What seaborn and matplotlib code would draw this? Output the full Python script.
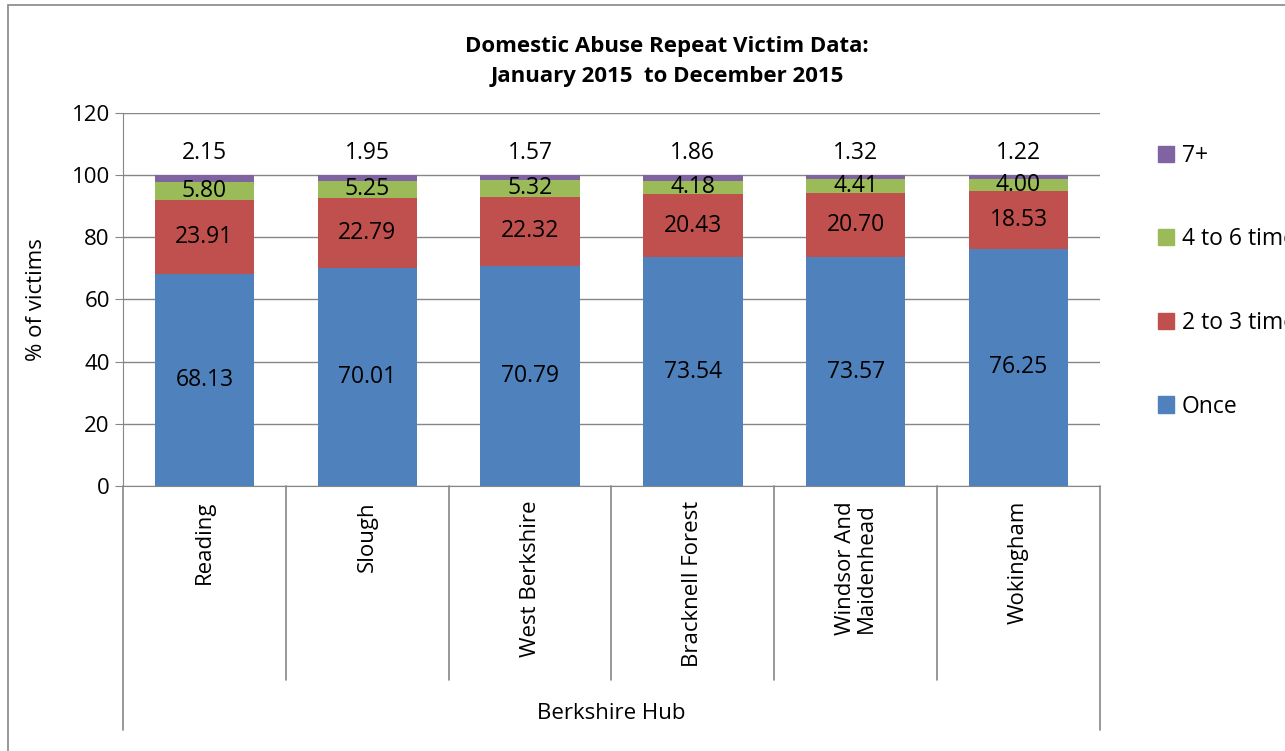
import pandas as pd
import seaborn as sns
import matplotlib.pyplot as plt
from matplotlib.patches import Patch, Rectangle

hubs = ["Reading", "Slough", "West Berkshire", "Bracknell Forest", "Windsor And\nMaidenhead", "Wokingham"]
once = [68.13, 70.01, 70.79, 73.54, 73.57, 76.25]
two_three = [23.91, 22.79, 22.32, 20.43, 20.70, 18.53]
four_six = [5.80, 5.25, 5.32, 4.18, 4.41, 4.00]
seven_plus = [2.15, 1.95, 1.57, 1.86, 1.32, 1.22]

series = ["Once", "2 to 3 times", "4 to 6 times", "7+"]
colors = ["#4F81BD", "#C0504D", "#9BBB59", "#8064A2"]

df = pd.DataFrame({"hub": hubs, "Once": once, "2 to 3 times": two_three,
                   "4 to 6 times": four_six, "7+": seven_plus})
cum = df[series].cumsum(axis=1)
cum["hub"] = df["hub"]

sns.set_style("white")
plt.rcParams["font.family"] = ["Open Sans", "DejaVu Sans"]
plt.rcParams["text.color"] = "black"
plt.rcParams["axes.labelcolor"] = "black"

fs = 16
fig = plt.figure(figsize=(12.85, 7.51), dpi=100)
ax = fig.add_axes([0.0957, 0.3529, 0.7603, 0.4966])

# stacked bars: draw cumulative totals from the top down
for s, c in reversed(list(zip(series, colors))):
    sns.barplot(x="hub", y=s, data=cum, color=c, width=0.61, ax=ax,
                saturation=1, linewidth=0, zorder=3)

# value labels
for i in range(len(hubs)):
    bottom = 0
    for s in series[:-1]:
        v = df[s][i]
        ax.text(i, bottom + v / 2, f"{v:.2f}", ha="center", va="center",
                fontsize=fs + 0.5, zorder=5)
        bottom += v
    ax.text(i, 107, f"{df['7+'][i]:.2f}", ha="center", va="center", fontsize=fs + 0.5)

ax.set_ylim(0, 120)
ax.set_xlim(-0.5, len(hubs) - 0.5)
ax.set_yticks(range(0, 121, 20))
ax.tick_params(axis="y", labelsize=fs, length=6, color="#868686", labelcolor="black",
               direction="out", left=True)
ax.yaxis.grid(True, color="#868686", linewidth=1)
ax.set_axisbelow(True)
for sp in ["top", "right"]:
    ax.spines[sp].set_visible(False)
ax.spines["left"].set_color("#868686")
ax.spines["bottom"].set_color("#868686")
ax.set_ylabel("% of victims", fontsize=fs)
ax.yaxis.set_label_coords(-0.078, 0.5)
ax.set_xlabel("")
ax.set_xticks([])

# category text and separator lines below the axis
for i, h in enumerate(hubs):
    ax.text(i, -0.04, h, transform=ax.get_xaxis_transform(), rotation=90,
            ha="center", va="top", fontsize=fs, linespacing=1.0)
for b in [x + 0.5 for x in range(len(hubs) - 1)]:
    ax.plot([b, b], [0, -0.52], transform=ax.get_xaxis_transform(),
            color="#868686", lw=1.2, clip_on=False)
for b in [-0.5, len(hubs) - 0.5]:
    ax.plot([b, b], [0, -0.655], transform=ax.get_xaxis_transform(),
            color="#868686", lw=1.2, clip_on=False)
ax.text(0.5, -0.61, "Berkshire Hub", transform=ax.transAxes, ha="center",
        va="center", fontsize=fs)

fig.text(0.519, 0.918, "Domestic Abuse Repeat Victim Data:\nJanuary 2015  to December 2015",
         ha="center", va="center", fontsize=16, fontweight="bold", linespacing=1.6)

handles = [Patch(color=c, label=s) for s, c in zip(series, colors)][::-1]
fig.legend(handles=handles, loc="upper left", bbox_to_anchor=(0.885, 0.836),
           frameon=False, fontsize=fs + 0.5, handlelength=0.7, handleheight=0.7,
           handletextpad=0.35, labelspacing=2.6)

fig.patches.append(Rectangle((0.006, -0.01), 1.1, 1.003, transform=fig.transFigure,
                             fill=False, edgecolor="#868686", lw=1.2))

fig.savefig("out.png", dpi=100)
